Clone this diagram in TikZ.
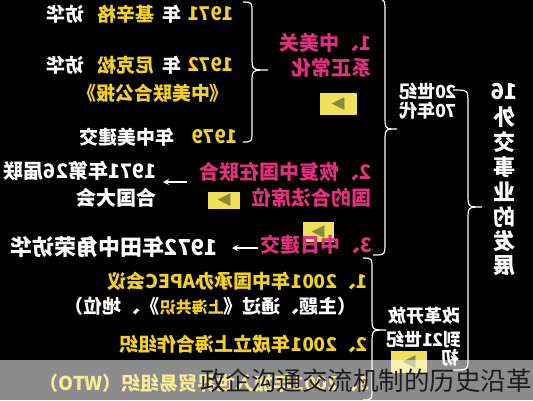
\documentclass[tikz,border=0pt]{standalone}
\usepackage{fontspec}
\usepackage{graphicx}
\usetikzlibrary{arrows.meta}
\setmainfont{Noto Sans CJK SC}
\newfontfamily\dejavu{DejaVu Sans}
\definecolor{yel}{HTML}{F2D21E}
\definecolor{pk}{HTML}{E2307E}
\definecolor{btnfill}{HTML}{F0E15A}
\definecolor{olv}{HTML}{8C8A3A}
\definecolor{capc}{HTML}{1E1E1E}
\newcommand{\mr}[1]{\reflectbox{#1}}
\newcommand{\fs}[1]{\fontsize{#1}{#1}\selectfont}
\newcommand{\rbr}[6]{% xl xm xr ytop ymid ybot
  \draw[brc] (#1,#4) .. controls (#2,#4) .. (#2,#4+13) -- (#2,#5-13)
    .. controls (#2,#5) .. (#3,#5) .. controls (#2,#5) .. (#2,#5+13)
    -- (#2,#6-13) .. controls (#2,#6) .. (#1,#6);}
\tikzset{
  t/.style={inner sep=0pt, font=\fs{19}\bfseries, text=white},
  ty/.style={t, text=yel},
  tp/.style={inner sep=0pt, font=\fs{20}\bfseries, text=pk},
  tv/.style={inner sep=0pt, font=\fs{22}\bfseries, text=white},
  brc/.style={draw=white, line width=1.2pt},
  arr/.style={draw=white, line width=1.3pt, -{Stealth[length=6pt,width=6pt]}},
  btn/.style={fill=btnfill, inner sep=0pt, text=olv, font=\dejavu\fs{17}},
}
\begin{document}
\begin{tikzpicture}[x=1pt,y=-1pt]
\fill[black] (0,0) rectangle (533,400);
\useasboundingbox (0,0) rectangle (533,400);

% ---- column 1 (top) ----
\node[ty, anchor=east] (r1a) at (234,14) {\mr{1971}};
\node[t] (r1b) at (172,14) {\mr{年}};
\node[ty] (r1c) at (126,14) {\mr{基辛格}};
\node[t] (r1d) at (65,14) {\mr{访华}};

\node[ty, anchor=east] (r2a) at (234,65) {\mr{1972}};
\node[t] (r2b) at (172,65) {\mr{年}};
\node[ty] (r2c) at (126,65) {\mr{尼克松}};
\node[t] (r2d) at (65,65) {\mr{访华}};
\node[ty] (r3) at (153,93) {\mr{《中美联合公报》}};

\node[ty, anchor=east] (r4a) at (238,137) {\mr{1979}};
\node[t] (r4b) at (127,137) {\mr{年中美建交}};

\rbr{243}{252}{268}{2}{70}{142}

% ---- pink items ----
\node[tp, anchor=east] (p1a) at (372,43) {\mr{1、中美关}};
\node[tp, anchor=east] (p1b) at (372,68) {\mr{系正常化}};
\node[btn, minimum width=37pt, minimum height=22pt] (b1) at (338,104) {\mr{▶}};

\node[tp, anchor=east] (p2a) at (372,172) {\mr{2、恢复中国在联合}};
\node[tp, anchor=east] (p2b) at (372,198) {\mr{国的合法席位}};
\node[btn, minimum width=32pt, minimum height=17pt] (b2) at (224,200) {\mr{▶}};

\node[btn, minimum width=31pt, minimum height=20pt] (b3) at (318,232) {\mr{▶}};
\node[tp, anchor=east] (p3) at (373,245) {\mr{3、中日建交}};

% ---- left white items ----
\node[t, anchor=east, font=\fs{20}\bfseries] (w1) at (157,171) {\mr{1971年第26届联}};
\node[t, anchor=east, font=\fs{20}\bfseries] (w2) at (157,198) {\mr{合国大会}};
\coordinate (a1s) at (187,182);
\coordinate (a1e) at (163,182);
\draw[arr] (a1s) -- (a1e);

\node[t, anchor=east, font=\fs{22}\bfseries] (w3) at (218,247) {\mr{1972年田中角荣访华}};
\coordinate (a2s) at (258,248);
\coordinate (a2e) at (232,248);
\draw[arr] (a2s) -- (a2e);

\rbr{373}{385}{397}{-1}{129}{255}

% ---- 20th century 70s ----
\node[t, font=\fs{18}\bfseries] (c1) at (428,91) {\mr{20世纪}};
\node[t, font=\fs{18}\bfseries] (c2) at (428,111) {\mr{70年代}};

\rbr{453}{468}{482}{90}{207}{370}

% ---- vertical title ----
\node[tv] (v0) at (504,92) {\mr{16}};
\node[tv] (v1) at (504,117) {\mr{外}};
\node[tv] (v2) at (504,142) {\mr{交}};
\node[tv] (v3) at (504,167) {\mr{事}};
\node[tv] (v4) at (504,192) {\mr{业}};
\node[tv] (v5) at (504,217) {\mr{的}};
\node[tv] (v6) at (504,241) {\mr{发}};
\node[tv] (v7) at (504,266) {\mr{展}};

% ---- bottom section ----
\node[ty, anchor=east] (d1) at (368,281) {\mr{1、2001年中国承办APEC会议}};
\node[t, anchor=east] (d2) at (357,306) {\mr{（主题、通过《{\color{yel}\fs{16}上海共识}》、地位）}};
\node[ty, anchor=east] (d3) at (368,344) {\mr{2、2001年成立上海合作组织}};
\node[ty, anchor=east] (d4) at (370,383) {\mr{3、2001年加入世界贸易组织（WTO）}};

\rbr{363}{372}{386}{258}{330}{400}

\node[t, font=\fs{18}\bfseries] (e1) at (424,316) {\mr{改革开放}};
\node[t, font=\fs{18}\bfseries] (e2) at (424,339) {\mr{到21世纪}};
\node[t, font=\fs{18}\bfseries, anchor=east] (e3) at (460,358) {\mr{初}};
\node[btn, minimum width=36pt, minimum height=22pt] (b4) at (409,362) {\mr{▶}};

% ---- caption band ----
\fill[white, opacity=0.55] (0,360) rectangle (533,400);
\node[inner sep=0pt, anchor=east, text=capc, font=\fs{25.5}] (cap) at (532,381) {政企沟通交流机制的历史沿革};
\end{tikzpicture}
\end{document}
